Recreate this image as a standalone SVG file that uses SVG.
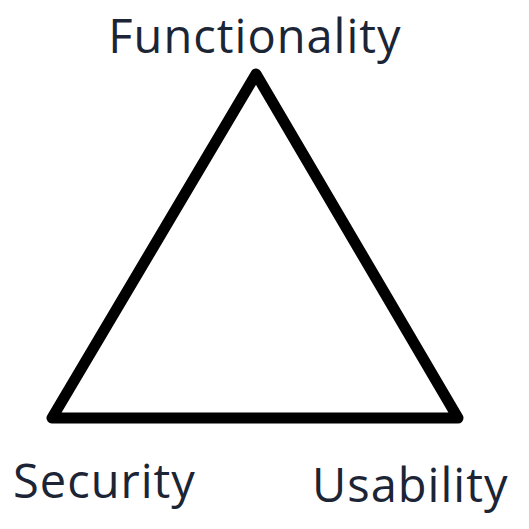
<svg xmlns="http://www.w3.org/2000/svg" width="529" height="529" viewBox="0 0 529 529">
<style>
.lbl{font-family:"Open Sans","Noto Sans","Liberation Sans",sans-serif;font-size:47px;letter-spacing:1px;fill:#1c2535}
.edge{fill:none;stroke:#000;stroke-width:11;stroke-linejoin:round;stroke-linecap:round}
</style>
<rect width="529" height="529" fill="#fff"/>
<g id="connectors">
<path class="edge" d="M256,74 L52,418 L458,418 Z"/>
</g>
<g id="functionality"><text class="lbl" x="255" y="53" text-anchor="middle">Functionality</text></g>
<g id="security"><text class="lbl" x="13" y="498">Security</text></g>
<g id="usability"><text class="lbl" x="312" y="502">Usability</text></g>
</svg>
